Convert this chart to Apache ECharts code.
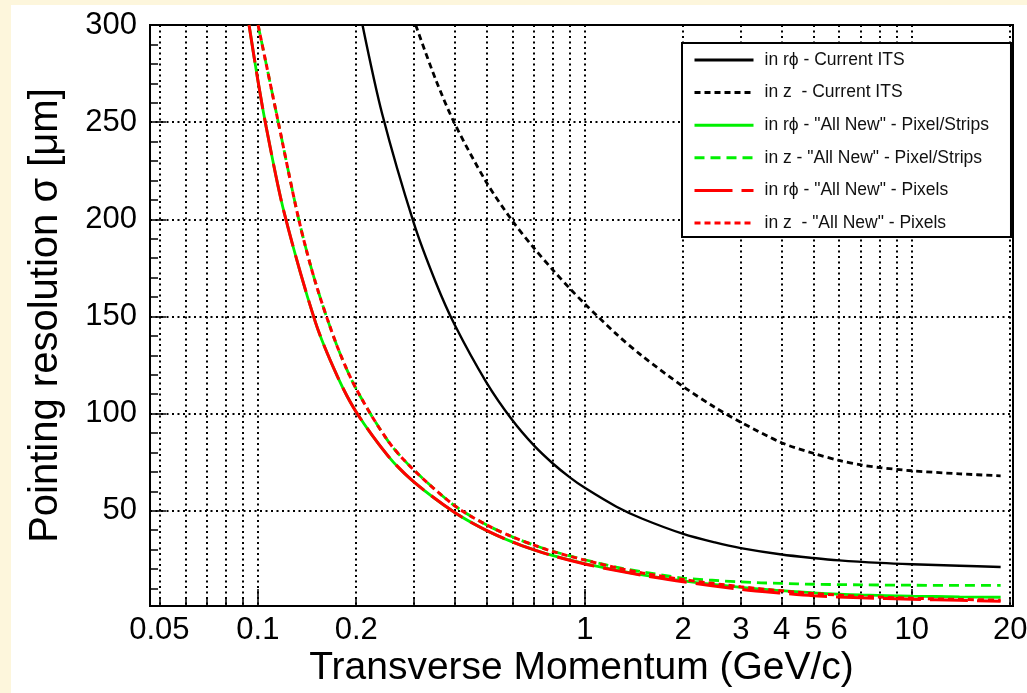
<!DOCTYPE html>
<html>
<head>
<meta charset="utf-8">
<script src="https://cdn.jsdelivr.net/npm/echarts@6/dist/echarts.min.js"></script>
<style>
  html, body { margin: 0; padding: 0; width: 1027px; height: 693px; overflow: hidden; background: #fdf6dc; }
  #chart { position: absolute; left: 11px; top: 5px; width: 1016px; height: 688px; background: #ffffff; }
</style>
</head>
<body>
<div id="chart"></div>
<script>
// Tick and label values (transverse momentum in GeV/c, resolution in micrometres)
const momentumLabels = [0.05, 0.1, 0.2, 1, 2, 3, 4, 5, 6, 10, 20];
const momentumGridValues = [0.05, 0.06, 0.07, 0.08, 0.09, 0.1, 0.2, 0.3, 0.4, 0.5, 0.6, 0.7, 0.8, 0.9,
                            1, 2, 3, 4, 5, 6, 7, 8, 9, 10, 20];
const momentumMajorTicks = [0.1, 1, 10];
const sigmaLabels = [50, 100, 150, 200, 250, 300];
const sigmaMinorTicks = [10, 20, 30, 40, 60, 70, 80, 90, 110, 120, 130, 140, 160, 170, 180, 190,
                         210, 220, 230, 240, 260, 270, 280, 290];

// Pointing resolution curves: [pT (GeV/c), sigma (um)]
const rphiCurrentITS = [
  [0.209, 300], [0.24, 254.3], [0.3, 198], [0.35, 167.6], [0.4, 145.7], [0.5, 116.1], [0.6, 96.7],
  [0.7, 83.5], [0.8, 74.2], [0.9, 67.2], [1, 61.8], [1.25, 52.1], [1.5, 45.9], [2, 38.1],
  [2.5, 33.7], [3, 30.8], [4, 27.5], [5, 25.7], [6, 24.5], [8, 23.2], [10, 22.5], [14, 21.7],
  [18.7, 21.1]
];
const zCurrentITS = [
  [0.304, 300], [0.35, 271.9], [0.4, 249.3], [0.5, 219.1], [0.6, 199.3], [0.7, 185.1],
  [0.8, 173.8], [0.9, 164.4], [1, 156.5], [1.25, 140.9], [1.5, 129.6], [2, 113.9], [2.5, 103.2],
  [3, 95.6], [4, 85], [5, 79.6], [6, 75.9], [7, 73.6], [8, 72.2], [10, 70.6], [14, 69], [18.7, 68]
];
const rphiPixelStrips = [
  [0.094, 300], [0.1, 271.7], [0.106, 247.8], [0.12, 204.4], [0.15, 147.1], [0.175, 119.3],
  [0.2, 100.8], [0.25, 78.3], [0.3, 64.9], [0.4, 49.1], [0.5, 39.9], [0.6, 34], [0.7, 29.9],
  [0.8, 26.9], [1, 22.8], [1.25, 19.5], [1.5, 17], [2, 13.9], [3, 10.6], [4, 8.9], [5, 7.8],
  [7, 6.7], [10, 6.1], [14, 5.7], [18.7, 5.5]
];
const zPixelStrips = [
  [0.1002, 300], [0.106, 280.2], [0.115, 251.5], [0.1334, 200], [0.15, 167.6], [0.175, 134.5],
  [0.2, 112.7], [0.25, 86], [0.3, 71], [0.4, 52.6], [0.5, 42.8], [0.6, 36.6], [0.7, 32.3],
  [0.8, 29.1], [1, 24.8], [1.25, 21], [1.5, 18.6], [2, 15.4], [3, 13.4], [4, 12.6], [5, 12.2],
  [7, 11.9], [10, 11.7], [14, 11.6], [18.7, 11.6]
];
const rphiPixels = [
  [0.094, 300], [0.1, 271.7], [0.106, 247.8], [0.12, 204.4], [0.15, 147.1], [0.175, 119.3],
  [0.2, 100.8], [0.25, 78.3], [0.3, 64.9], [0.4, 49.1], [0.5, 39.9], [0.6, 34], [0.7, 29.9],
  [0.8, 26.8], [1, 22.6], [1.25, 19.2], [1.5, 16.8], [2, 13.5], [3, 9.6], [4, 7.6], [5, 6.3],
  [7, 5.2], [10, 4.5], [14, 3.9], [18.7, 3.5]
];
const zPixels = [
  [0.1002, 300], [0.106, 280.2], [0.115, 251.5], [0.1334, 200], [0.15, 167.6], [0.175, 134.5],
  [0.2, 112.7], [0.25, 86], [0.3, 71], [0.4, 52.6], [0.5, 42.8], [0.6, 36.6], [0.7, 32.3],
  [0.8, 29], [1, 24.6], [1.25, 20.7], [1.5, 18], [2, 14.6], [3, 10.9], [4, 8.8], [5, 7.4],
  [7, 6], [10, 5], [14, 4.4], [18.7, 4]
];

const FONT = '"Liberation Sans", Arial, Helvetica, sans-serif';
const X_MIN = 0.0468, X_MAX = 20.4;
const Y_MIN = 1, Y_MAX = 300;

const gridLine = { show: true, lineStyle: { color: '#000', width: 2, type: [2, 3.5] } };
const tickLine = { color: '#000', width: 1.5 };

function curve(name, data, color, width, dash) {
  return {
    name, type: 'line', data, symbol: 'none', smooth: 0.3,
    xAxisIndex: 0, yAxisIndex: 0,
    lineStyle: { color, width, type: dash },
    itemStyle: { color },
    emphasis: { disabled: true }
  };
}

const chart = echarts.init(document.getElementById('chart'), null, { renderer: 'canvas' });

chart.setOption({
  animation: false,
  backgroundColor: '#ffffff',
  grid: {
    left: 139, right: 14, top: 20, bottom: 87,
    show: true, borderColor: '#000', borderWidth: 2, backgroundColor: '#fff',
    containLabel: false, outerBoundsMode: 'none'
  },
  legend: {
    orient: 'vertical', left: 671, top: 38,
    itemWidth: 59, itemHeight: 14, itemGap: 14.6,
    padding: [8, 22, 5, 11],
    backgroundColor: '#fff', borderColor: '#000', borderWidth: 2, borderRadius: 0,
    selectedMode: false,
    itemStyle: { color: 'rgba(0,0,0,0)', borderWidth: 0, opacity: 0 },
    lineStyle: { width: 3 },
    textStyle: { fontFamily: FONT, fontSize: 17.5, color: '#111', lineHeight: 17.5, padding: [0, 0, 0, 6] },
    data: [
      'in rϕ - Current ITS',
      'in z  - Current ITS',
      'in rϕ - "All New" - Pixel/Strips',
      'in z - "All New" - Pixel/Strips',
      'in rϕ - "All New" - Pixels',
      'in z  - "All New" - Pixels'
    ]
  },
  xAxis: [
    {
      type: 'log', logBase: 10, min: X_MIN, max: X_MAX, position: 'bottom',
      axisLine: { show: false },
      axisTick: { show: true, inside: true, length: 9, customValues: momentumGridValues, lineStyle: tickLine },
      axisLabel: {
        customValues: momentumLabels, fontFamily: FONT, fontSize: 31, color: '#000', margin: 9,
        formatter: v => String(+Number(v).toPrecision(3))
      },
      splitLine: gridLine,
      minorTick: { show: false }, minorSplitLine: { show: false },
      name: 'Transverse Momentum (GeV/c)', nameLocation: 'middle', nameGap: 43, nameMoveOverlap: false,
      nameTextStyle: { fontFamily: FONT, fontSize: 39, color: '#000' }
    },
    {
      type: 'log', logBase: 10, min: X_MIN, max: X_MAX, position: 'bottom', offset: 0,
      axisLine: { show: false },
      axisTick: { show: true, inside: true, length: 17, customValues: momentumMajorTicks, lineStyle: tickLine },
      axisLabel: { show: false },
      splitLine: { show: false }
    }
  ],
  yAxis: [
    {
      type: 'value', min: Y_MIN, max: Y_MAX, position: 'left',
      axisLine: { show: false },
      axisTick: { show: true, inside: true, length: 16, customValues: sigmaLabels, lineStyle: tickLine },
      axisLabel: { customValues: sigmaLabels, fontFamily: FONT, fontSize: 31, color: '#000', margin: 13 },
      splitLine: gridLine,
      name: 'Pointing resolution σ [μm]', nameLocation: 'middle', nameGap: 84, nameRotate: 90,
      nameMoveOverlap: false,
      nameTextStyle: { fontFamily: FONT, fontSize: 40, color: '#000' }
    },
    {
      type: 'value', min: Y_MIN, max: Y_MAX, position: 'left', offset: 0,
      axisLine: { show: false },
      axisTick: { show: true, inside: true, length: 8, customValues: sigmaMinorTicks, lineStyle: tickLine },
      axisLabel: { show: false },
      splitLine: { show: false }
    }
  ],
  series: [
    curve('in rϕ - Current ITS', rphiCurrentITS, '#000000', 2.4, 'solid'),
    curve('in z  - Current ITS', zCurrentITS, '#000000', 2.8, [6, 4]),
    curve('in rϕ - "All New" - Pixel/Strips', rphiPixelStrips, '#00f000', 2.8, 'solid'),
    curve('in z - "All New" - Pixel/Strips', zPixelStrips, '#00f000', 2.8, [10, 6]),
    curve('in rϕ - "All New" - Pixels', rphiPixels, '#ff0000', 3, [38, 9]),
    curve('in z  - "All New" - Pixels', zPixels, '#ff0000', 3, [6, 4])
  ]
});
</script>
</body>
</html>
